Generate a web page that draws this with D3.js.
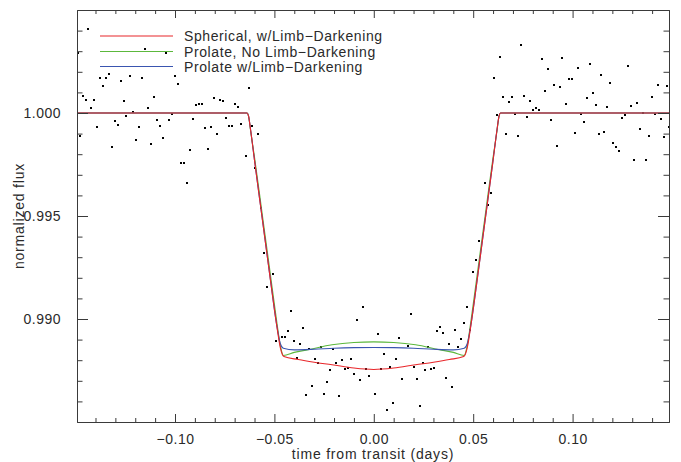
<!DOCTYPE html>
<html>
<head>
<meta charset="utf-8">
<script src="https://cdn.jsdelivr.net/npm/d3@7"></script>
<style>
  html, body { margin: 0; padding: 0; background: #fff; }
  svg { display: block; }
  text { font-family: "Liberation Sans", Arial, Helvetica, sans-serif; fill: #2a2a2a; }
</style>
</head>
<body>
<svg id="chart" width="681" height="462"></svg>
<script>
// ---- observed data: time from transit (days) and normalized flux ----
const obsTime = [
  -0.1489,-0.1478,-0.1461,-0.1446,-0.1436,-0.1423,-0.1408,-0.1391,-0.1377,-0.1362,
  -0.1347,-0.1332,-0.1317,-0.1302,-0.1287,-0.1272,-0.1257,-0.1244,-0.1227,-0.1212,
  -0.1196,-0.1181,-0.1166,-0.1151,-0.1136,-0.1121,-0.1105,-0.1091,-0.1076,-0.1059,
  -0.1046,-0.1029,-0.1014,-0.1001,-0.0985,-0.0969,-0.0955,-0.0940,-0.0925,-0.0910,
  -0.0895,-0.0880,-0.0865,-0.0848,-0.0835,-0.0820,-0.0805,-0.0789,-0.0774,-0.0758,
  -0.0743,-0.0728,-0.0713,-0.0698,-0.0682,-0.0669,-0.0642,-0.0627,-0.0614,-0.0597,
  -0.0583,-0.0567,-0.0552,-0.0537,-0.0507,-0.0491,-0.0461,-0.0446,-0.0431,-0.0416,
  -0.0401,-0.0386,-0.0371,-0.0356,-0.0341,-0.0326,-0.0311,-0.0295,-0.0280,-0.0265,
  -0.0250,-0.0235,-0.0220,-0.0205,-0.0190,-0.0175,-0.0160,-0.0145,-0.0130,-0.0115,
  -0.0099,-0.0084,-0.0069,-0.0054,-0.0039,-0.0024, 0.0006, 0.0021, 0.0036, 0.0051,
   0.0066, 0.0081, 0.0096, 0.0112, 0.0127, 0.0142, 0.0172, 0.0187, 0.0202, 0.0217,
   0.0232, 0.0247, 0.0257, 0.0272, 0.0287, 0.0303, 0.0318, 0.0333, 0.0348, 0.0363,
   0.0378, 0.0393, 0.0408, 0.0423, 0.0438, 0.0453, 0.0468, 0.0483, 0.0498, 0.0514,
   0.0529, 0.0559, 0.0574, 0.0589, 0.0603, 0.0619, 0.0634, 0.0649, 0.0664, 0.0679,
   0.0694, 0.0710, 0.0725, 0.0740, 0.0755, 0.0770, 0.0785, 0.0800, 0.0815, 0.0830,
   0.0845, 0.0860, 0.0875, 0.0890, 0.0906, 0.0921, 0.0936, 0.0949, 0.0966, 0.0981,
   0.0996, 0.1011, 0.1026, 0.1041, 0.1056, 0.1071, 0.1086, 0.1102, 0.1117, 0.1132,
   0.1142, 0.1157, 0.1172, 0.1187, 0.1202, 0.1217, 0.1232, 0.1247, 0.1262, 0.1277,
   0.1292, 0.1308, 0.1323, 0.1338, 0.1353, 0.1368, 0.1383, 0.1398, 0.1413, 0.1428,
   0.1443, 0.1458, 0.1473, 0.1485
];
const obsFlux = [
  1.00289,0.99890,1.00084,1.00063,1.00410,1.00026,1.00063,0.99933,1.00172,1.00133,
  1.00172,1.00190,0.99835,0.99961,0.99943,1.00156,1.00058,0.99987,1.00180,1.00003,
  0.99869,0.99933,1.00172,1.00313,1.00026,0.99851,1.00079,0.99966,0.99938,0.99880,
  1.00289,0.99966,0.99995,1.00181,1.00143,0.99758,0.99758,0.99660,0.99820,0.99971,
  1.00039,1.00044,1.00044,0.99929,0.99825,0.99933,1.00074,0.99900,1.00063,1.00058,
  0.99977,0.99938,0.99938,1.00044,1.00031,0.99946,0.99792,1.00123,0.99938,0.99732,
  0.99900,0.99538,0.99319,0.99154,0.99217,0.98891,0.98915,0.98915,0.98940,0.99037,
  0.98891,0.98813,0.98881,0.98954,0.98633,0.98852,0.98677,0.98808,0.98784,0.98862,
  0.98638,0.98692,0.98750,0.98852,0.98784,0.98628,0.98799,0.98755,0.98760,0.98808,
  0.98731,0.98993,0.98706,0.99056,0.98755,0.98721,0.98638,0.98925,0.98755,0.98828,
  0.98560,0.98765,0.98594,0.98808,0.98906,0.98711,0.98867,0.99022,0.98769,0.98711,
  0.98580,0.98784,0.98750,0.98862,0.98755,0.98760,0.98940,0.98959,0.98930,0.98716,
  0.98881,0.98672,0.98949,0.98862,0.98901,0.98983,0.99056,0.98945,0.99227,0.99285,
  0.99377,0.99660,0.99553,0.99611,1.00172,0.99992,1.00272,1.00078,0.99900,1.00054,
  1.00078,0.99995,0.99890,1.00332,1.00083,0.99982,1.00058,1.00015,1.00024,1.00015,
  1.00264,1.00108,1.00214,0.99966,1.00136,0.99839,1.00128,1.00269,1.00044,1.00165,
  1.00165,0.99903,1.00219,0.99995,0.99956,1.00073,1.00238,1.00097,1.00039,0.99900,
  1.00185,0.99908,1.00029,1.00146,0.99854,0.99835,0.99815,0.99976,0.99992,1.00229,
  1.00034,0.99771,1.00049,0.99922,1.00001,0.99771,0.99888,1.00078,0.99995,1.00136,
  0.99971,0.99883,1.00131,0.99933
];

// ---- model curves (knots) ----
const sphTime = [-0.1493,-0.0637,-0.0630,-0.0620,-0.0600,-0.0560,-0.0520,-0.0490,-0.0470,-0.0460,-0.0452,
  -0.0380,-0.0300,-0.0210,-0.0100,0.0000,0.0100,0.0210,0.0300,0.0380,
  0.0452,0.0460,0.0470,0.0490,0.0520,0.0560,0.0600,0.0620,0.0630,0.0637,0.1485];
const sphFlux = [1.0,1.0,0.99985,0.99920,0.99770,0.99480,0.99190,0.98980,0.98860,0.98828,0.98818,
  0.98803,0.98790,0.98778,0.98762,0.98755,0.98762,0.98778,0.98790,0.98803,
  0.98818,0.98828,0.98860,0.98980,0.99190,0.99480,0.99770,0.99920,0.99985,1.0,1.0];

const proNoTime = [-0.1493,-0.0637,-0.0630,-0.0620,-0.0600,-0.0560,-0.0520,-0.0490,-0.0470,-0.0455,
  -0.0400,-0.0330,-0.0210,-0.0100,0.0000,0.0100,0.0210,0.0330,0.0400,
  0.0455,0.0470,0.0490,0.0520,0.0560,0.0600,0.0620,0.0630,0.0637,0.1485];
const proNoFlux = [1.0,1.0,0.99985,0.99915,0.99785,0.99500,0.99215,0.99000,0.98870,0.98823,
  0.98838,0.98851,0.98875,0.98886,0.98889,0.98886,0.98875,0.98851,0.98838,
  0.98823,0.98870,0.99000,0.99215,0.99500,0.99785,0.99915,0.99985,1.0,1.0];

const proLdTime = [-0.1493,-0.0637,-0.0630,-0.0620,-0.0600,-0.0560,-0.0520,-0.0490,-0.0470,-0.0455,
  -0.0400,-0.0300,-0.0200,-0.0100,0.0000,0.0100,0.0200,0.0300,0.0400,
  0.0455,0.0470,0.0490,0.0520,0.0560,0.0600,0.0620,0.0630,0.0637,0.1485];
const proLdFlux = [1.0,1.0,0.99985,0.99920,0.99770,0.99480,0.99190,0.98980,0.98880,0.98858,
  0.98850,0.98853,0.98858,0.98861,0.98862,0.98861,0.98858,0.98853,0.98850,
  0.98858,0.98880,0.98980,0.99190,0.99480,0.99770,0.99920,0.99985,1.0,1.0];

const legendLabels = ["Spherical, w/Limb\u2212Darkening", "Prolate, No Limb\u2212Darkening", "Prolate w/Limb\u2212Darkening"];
const legendColors = ["#e8262a", "#5cb83c", "#3a55b0"];

const xMajorTicks = [-0.10, -0.05, 0.00, 0.05, 0.10];
const xMajorLabels = ["\u22120.10", "\u22120.05", "0.00", "0.05", "0.10"];
const xMinorTicks = [-0.14,-0.13,-0.12,-0.11,-0.09,-0.08,-0.07,-0.06,-0.04,-0.03,-0.02,-0.01,
                     0.01,0.02,0.03,0.04,0.06,0.07,0.08,0.09,0.11,0.12,0.13,0.14];
const yMajorTicks = [0.990, 0.995, 1.000];
const yMajorLabels = ["0.990", "0.995", "1.000"];
const yMinorTicks = [0.986,0.987,0.988,0.989,0.991,0.992,0.993,0.994,0.996,0.997,0.998,0.999,
                     1.001,1.002,1.003,1.004];

// ---- drawing ----
const svg = d3.select("#chart");
const L = 77, R = 669, T = 10, B = 422;
const x = d3.scaleLinear().domain([-0.1493, 0.1485]).range([L, R]);
const y = d3.scaleLinear().domain([0.985, 1.005]).range([B, T]);
const frameColor = "#3a3a3a";

const plot = svg.append("g");
svg.append("clipPath").attr("id", "clip")
  .append("rect").attr("x", L).attr("y", T).attr("width", R - L).attr("height", B - T);

// data points
plot.append("g").selectAll("rect").data(obsTime).join("rect")
  .attr("x", (d) => Math.round(x(d)) - 1)
  .attr("y", (d, i) => Math.round(y(obsFlux[i])) - 1)
  .attr("width", 2).attr("height", 2)
  .attr("fill", "#000");

// model lines
const line = d3.line().x(d => x(d[0])).y(d => y(d[1])).curve(d3.curveMonotoneX);
const models = [
  { t: proNoTime, f: proNoFlux, c: legendColors[1] },
  { t: proLdTime, f: proLdFlux, c: legendColors[2] },
  { t: sphTime, f: sphFlux, c: legendColors[0] }
];
const lg = plot.append("g").attr("clip-path", "url(#clip)");
models.forEach(m => {
  lg.append("path")
    .attr("d", line(m.t.map((t, i) => [t, m.f[i]])))
    .attr("fill", "none").attr("stroke", m.c).attr("stroke-width", 1.1);
});

// axes (IDL-style box with ticks on all four sides)
const axBottom = d3.axisBottom(x).tickValues(xMajorTicks).tickFormat((d, i) => xMajorLabels[i]).tickSizeInner(-8).tickSizeOuter(0).tickPadding(12);
const axBottomMinor = d3.axisBottom(x).tickValues(xMinorTicks).tickFormat("").tickSizeInner(-4).tickSizeOuter(0);
const axTop = d3.axisTop(x).tickValues(xMajorTicks).tickFormat("").tickSizeInner(-8).tickSizeOuter(0);
const axTopMinor = d3.axisTop(x).tickValues(xMinorTicks).tickFormat("").tickSizeInner(-4).tickSizeOuter(0);
const axLeft = d3.axisLeft(y).tickValues(yMajorTicks).tickFormat((d, i) => yMajorLabels[i]).tickSizeInner(-11).tickSizeOuter(0).tickPadding(16);
const axLeftMinor = d3.axisLeft(y).tickValues(yMinorTicks).tickFormat("").tickSizeInner(-5.5).tickSizeOuter(0);
const axRight = d3.axisRight(y).tickValues(yMajorTicks).tickFormat("").tickSizeInner(-11).tickSizeOuter(0);
const axRightMinor = d3.axisRight(y).tickValues(yMinorTicks).tickFormat("").tickSizeInner(-5.5).tickSizeOuter(0);

function styleAxis(g) {
  g.selectAll("path.domain").attr("stroke", frameColor).attr("stroke-width", 1);
  g.selectAll(".tick line").attr("stroke", frameColor).attr("stroke-width", 1);
  g.selectAll(".tick text").attr("font-family", "Liberation Sans, Arial, sans-serif")
    .attr("font-size", 14).attr("fill", "#2a2a2a").attr("letter-spacing", "0.5px");
}
svg.append("g").attr("transform", `translate(0,${B})`).call(axBottom).call(styleAxis);
svg.append("g").attr("transform", `translate(0,${B})`).call(axBottomMinor).call(styleAxis);
svg.append("g").attr("transform", `translate(0,${T})`).call(axTop).call(styleAxis);
svg.append("g").attr("transform", `translate(0,${T})`).call(axTopMinor).call(styleAxis);
svg.append("g").attr("transform", `translate(${L},0)`).call(axLeft).call(styleAxis);
svg.append("g").attr("transform", `translate(${L},0)`).call(axLeftMinor).call(styleAxis);
svg.append("g").attr("transform", `translate(${R},0)`).call(axRight).call(styleAxis);
svg.append("g").attr("transform", `translate(${R},0)`).call(axRightMinor).call(styleAxis);

// axis titles
svg.append("text").attr("x", (L + R) / 2).attr("y", 459).attr("text-anchor", "middle")
  .attr("font-size", 14).attr("letter-spacing", "0.8px").text("time from transit (days)");
svg.append("text").attr("transform", `translate(24,${(T + B) / 2}) rotate(-90)`).attr("text-anchor", "middle")
  .attr("font-size", 14).attr("letter-spacing", "0.8px").text("normalized flux");

// legend
const legY = [36, 51.5, 66.5];
legendLabels.forEach((lab, i) => {
  svg.append("line").attr("x1", 100).attr("x2", 173).attr("y1", legY[i]).attr("y2", legY[i])
    .attr("stroke", legendColors[i]).attr("stroke-width", 1.1);
  svg.append("text").attr("x", 184).attr("y", legY[i] + 5).attr("font-size", 14)
    .attr("letter-spacing", "0.6px").text(lab);
});
</script>
</body>
</html>
